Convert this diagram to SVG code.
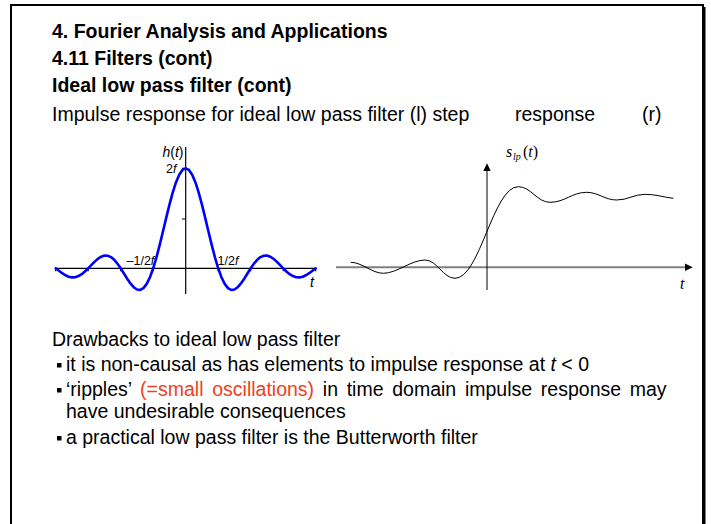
<svg xmlns="http://www.w3.org/2000/svg" width="711" height="524" viewBox="0 0 711 524">
<style>
.t{font-family:"Liberation Sans",Arial,sans-serif;font-size:19.5px;fill:#000}
.b{font-weight:bold}
.lab{font-family:"Liberation Sans",Arial,sans-serif;font-size:12.5px;fill:#000}
.tm{font-family:"Liberation Serif","Times New Roman",serif;fill:#000}
.it{font-style:italic}
.ax{stroke:#000;stroke-width:1.2;fill:none}
.bul{fill:#000}
</style>
<rect width="711" height="524" fill="#fff"/>
<g id="frame">
<rect x="11" y="5" width="692" height="530" fill="none" stroke="#000" stroke-width="2"/>
<line x1="704.5" y1="7" x2="704.5" y2="524" stroke="#000" stroke-width="2"/>
</g>
<g id="header">
<text class="t b" x="52" y="38">4. Fourier Analysis and Applications</text>
<text class="t b" x="52" y="65">4.11 Filters (cont)</text>
<text class="t b" x="52" y="92">Ideal low pass filter (cont)</text>
<text class="t" x="52" y="121">Impulse response for ideal low pass filter (l) step</text>
<text class="t" x="515" y="121">response</text>
<text class="t" x="642" y="121">(r)</text>
</g>
<g id="impulse-plot">
<g class="ax">
<line x1="55.7" y1="268.3" x2="315.7" y2="268.3"/>
<line x1="185.7" y1="147" x2="185.7" y2="294"/>
<path d="M182,219H185.7M182,168.3H185.7M55.7,268.3v3M88.2,268.3v3M120.7,268.3v3M153.2,268.3v3M218.2,268.3v3M250.7,268.3v3M283.2,268.3v3M315.7,268.3v3"/>
</g>
<polyline transform="translate(185.7,268.3)" fill="none" stroke="#0000ff" stroke-width="2.6" stroke-linejoin="round" stroke-linecap="round" points="-130,0 -126.75,2.52 -123.5,4.92 -120.25,6.96 -117,8.41 -113.75,9.1 -110.5,8.9 -107.25,7.8 -104,5.85 -100.75,3.17 -97.5,0 -94.25,-3.39 -91,-6.68 -87.75,-9.54 -84.5,-11.64 -81.25,-12.73 -78,-12.61 -74.75,-11.2 -71.5,-8.51 -68.25,-4.68 -65,0 -61.75,5.18 -58.5,10.39 -55.25,15.15 -52,18.92 -48.75,21.22 -45.5,21.62 -42.25,19.81 -39,15.59 -35.75,8.94 -32.5,0 -29.25,-10.93 -26,-23.39 -22.75,-36.79 -19.5,-50.46 -16.25,-63.66 -13,-75.68 -9.75,-85.84 -6.5,-93.55 -3.25,-98.36 0,-100 3.25,-98.36 6.5,-93.55 9.75,-85.84 13,-75.68 16.25,-63.66 19.5,-50.46 22.75,-36.79 26,-23.39 29.25,-10.93 32.5,0 35.75,8.94 39,15.59 42.25,19.81 45.5,21.62 48.75,21.22 52,18.92 55.25,15.15 58.5,10.39 61.75,5.18 65,0 68.25,-4.68 71.5,-8.51 74.75,-11.2 78,-12.61 81.25,-12.73 84.5,-11.64 87.75,-9.54 91,-6.68 94.25,-3.39 97.5,0 100.75,3.17 104,5.85 107.25,7.8 110.5,8.9 113.75,9.1 117,8.41 120.25,6.96 123.5,4.92 126.75,2.52 130,0"/>
<text class="lab" x="162.5" y="157" style="font-size:14px"><tspan class="it">h</tspan>(<tspan class="it">t</tspan>)</text>
<text class="lab" x="166" y="173">2<tspan class="it">f</tspan></text>
<text class="lab" x="126.5" y="265">–1/2<tspan class="it">f</tspan></text>
<text class="lab" x="217.5" y="265">1/2<tspan class="it">f</tspan></text>
<text class="lab it" x="310" y="287" style="font-size:14px">t</text>
</g>
<g id="step-plot">
<line x1="336" y1="267.3" x2="687" y2="267.3" stroke="#808080" stroke-width="2"/>
<polygon points="692.7,267.3 685,263.5 685,271.1" fill="#000"/>
<line x1="487" y1="290" x2="487" y2="170" stroke="#000" stroke-width="1"/>
<polygon points="487,163.3 483.3,171 490.7,171" fill="#000"/>
<path fill="none" stroke="#000" stroke-width="1" d="M350.7,262.3C362,262.3 372,273.3 383.3,273.3C397,273.3 411,260 425,260C437,260 443,278.3 455,278.3C480,278.3 493,186.7 518.3,186.7C531,186.7 537,202.3 550,202.3C565,202.3 572,192.3 586.7,192.3C598,192.3 605,200 616.7,200C628,200 634,194.3 645,194.3C656,194.3 662,197 673.3,198.3"/>
<text class="tm it" x="506" y="157" style="font-size:16px">s</text>
<text class="tm it" x="513" y="160" style="font-size:10px">lp</text>
<text class="tm" x="523" y="157" style="font-size:16px">(<tspan class="it">t</tspan>)</text>
<text class="tm it" x="680" y="289" style="font-size:16px">t</text>
</g>
<g id="drawbacks">
<text class="t" x="52" y="346">Drawbacks to ideal low pass filter</text>
<rect class="bul" x="57" y="363" width="4.5" height="4.5"/>
<text class="t" x="66" y="371">it is non-causal as has elements to impulse response at <tspan class="it">t</tspan> &lt; 0</text>
<rect class="bul" x="57" y="388" width="4.5" height="4.5"/>
<text class="t" x="66" y="396" word-spacing="3.3">‘ripples’ <tspan fill="#f04020">(=small oscillations)</tspan> in time domain impulse response may</text>
<text class="t" x="66" y="418">have undesirable consequences</text>
<rect class="bul" x="57" y="436" width="4.5" height="4.5"/>
<text class="t" x="66" y="444">a practical low pass filter is the Butterworth filter</text>
</g>
</svg>
